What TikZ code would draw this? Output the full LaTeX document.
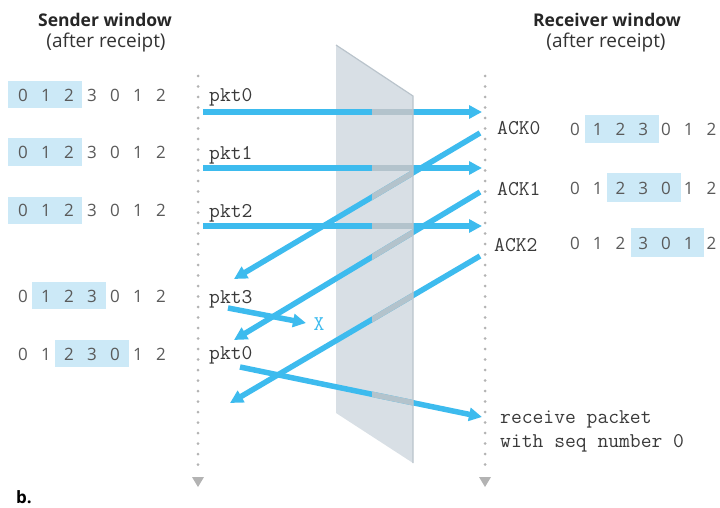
\documentclass[tikz,border=0pt]{standalone}
\usepackage{fontspec}
\setmainfont{Open Sans}
\usetikzlibrary{arrows.meta}
\definecolor{ablue}{HTML}{3DBBEE}
\definecolor{winblue}{HTML}{CCE9F7}
\definecolor{panel}{HTML}{D8DFE5}
\definecolor{panedge}{HTML}{BAC4CC}
\definecolor{through}{HTML}{B3C3CC}
\definecolor{dotgray}{HTML}{B3B3B3}
\definecolor{txt}{HTML}{3A3A3A}
\definecolor{dig}{HTML}{5A5A5A}
\tikzset{
  mono/.style={font=\ttfamily\fontsize{21}{24}\selectfont, text=txt, inner sep=0pt, anchor=base west},
  digit/.style={font=\fontsize{17}{20}\selectfont, text=dig, inner sep=0pt, anchor=base},
  head/.style={font=\bfseries\fontsize{17.5}{20}\selectfont, text=black!85, inner sep=0pt, anchor=base},
  sub/.style={font=\fontsize{19}{22}\selectfont, text=black!80, inner sep=0pt, anchor=base},
  win/.style={fill=winblue},
  arr/.style={draw=ablue, line width=5.5pt, -{Triangle[length=13pt,width=13pt]}},
  thru/.style={draw=through, line width=5.5pt},
  timeline/.style={draw=dotgray, line width=3pt, line cap=round, dash pattern=on 0pt off 10.5pt},
}
\begin{document}
\begin{tikzpicture}[x=1pt,y=-1pt]
\useasboundingbox (0,0) rectangle (720,508);
% headings
\node[head] (sh) at (105,27) {Sender window};
\node[sub] (ss) at (106,48) {(after receipt)};
\node[head] (rh) at (607,27) {Receiver window};
\node[sub] (rs) at (606,48) {(after receipt)};
\node[font=\bfseries\fontsize{17}{20}\selectfont, inner sep=0pt, anchor=base west] (b) at (16,503) {b.};
% sender windows
\fill[win] (8,81) rectangle (82,108);
\fill[win] (8,138) rectangle (82,166);
\fill[win] (8,197) rectangle (82,224);
\fill[win] (32,282) rectangle (106,309);
\fill[win] (55,340) rectangle (129,367);
\foreach \r/\yb in {1/101.5,2/158.5,3/216.5,4/302.5,5/360.5}{
  \foreach \d [count=\i from 0] in {0,1,2,3,0,1,2}
    \node[digit] (s\r d\i) at ({23+23*\i},\yb) {\d};
}
% receiver windows
\fill[win] (585,115) rectangle (659,143);
\fill[win] (607,173) rectangle (681,202);
\fill[win] (631,228) rectangle (704,257);
\foreach \r/\yb in {1/135.5,2/194.5,3/249.5}{
  \foreach \d [count=\i from 0] in {0,1,2,3,0,1,2}
    \node[digit] (r\r d\i) at ({575+22.75*\i},\yb) {\d};
}
% timelines
\coordinate (st) at (198,76); \coordinate (sb) at (198,472);
\coordinate (rt) at (485,76); \coordinate (rb) at (485,472);
\draw[timeline] (st) -- (sb);
\draw[timeline] (rt) -- (rb);
\fill[dotgray] (192,477) -- (204,477) -- (198,487) -- cycle;
\fill[dotgray] (479,477) -- (491,477) -- (485,487) -- cycle;
% panel
\coordinate (p1) at (336,45); \coordinate (p2) at (413,96);
\coordinate (p3) at (413,463); \coordinate (p4) at (336,413);
\fill[panel] (p1) -- (p2) -- (p3) -- (p4) -- cycle;
% labels
\node[mono] (l0) at (209,102) {pkt0};
\node[mono] (l1) at (209,159) {pkt1};
\node[mono] (l2) at (209,217) {pkt2};
\node[mono] (l3) at (209,303) {pkt3};
\node[mono] (l4) at (209,359) {pkt0};
\node[mono] (a0) at (497,135) {ACK0};
\node[mono] (a1) at (497,195) {ACK1};
\node[mono] (a2) at (494,251) {ACK2};
\node[mono, align=left, anchor=base west] (rcv) at (500,447) {receive packet\\with seq number 0};
\node[mono, text=ablue, anchor=center] (lost) at (319,324) {X};
% arrow end points
\coordinate (k0s) at (203,112); \coordinate (k0e) at (482,112);
\coordinate (k1s) at (203,168); \coordinate (k1e) at (482,168);
\coordinate (k2s) at (203,226); \coordinate (k2e) at (482,226);
\coordinate (c0s) at (480,133); \coordinate (c0e) at (234,279);
\coordinate (c1s) at (480,192); \coordinate (c1e) at (234,340);
\coordinate (c2s) at (480,256); \coordinate (c2e) at (230,403);
\coordinate (k3s) at (228,308); \coordinate (k3e) at (306,323);
\coordinate (k4s) at (240,367); \coordinate (k4e) at (482,417);
% arrows
\draw[arr] (k0s) -- (k0e);
\draw[arr] (k1s) -- (k1e);
\draw[arr] (k2s) -- (k2e);
\draw[arr] (c0s) -- (c0e);
\draw[arr] (c1s) -- (c1e);
\draw[arr] (c2s) -- (c2e);
\draw[arr] (k3s) -- (k3e);
\draw[arr] (k4s) -- (k4e);
% parts seen through the panel
\begin{scope}
  \clip (372,68.8) -- (p2) -- (p3) -- (372,436.4) -- cycle;
  \draw[thru] (k0s) -- (k0e);
  \draw[thru] (k1s) -- (k1e);
  \draw[thru] (k2s) -- (k2e);
  \draw[thru] (c0s) -- (c0e);
  \draw[thru] (c1s) -- (c1e);
  \draw[thru] (c2s) -- (c2e);
  \draw[thru] (k4s) -- (k4e);
\end{scope}
\draw[panedge, line width=1.2pt] (p1) -- (p2) -- (p3);
\end{tikzpicture}
\end{document}
